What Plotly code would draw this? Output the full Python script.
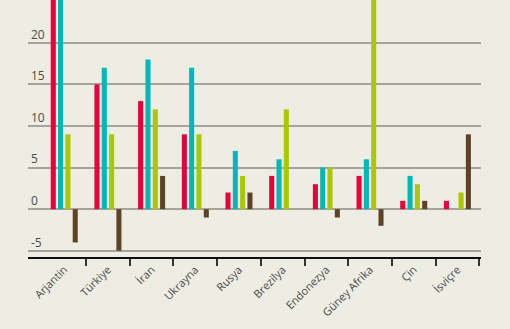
import plotly.graph_objects as go

countries = ["Arjantin", "Türkiye", "İran", "Ukrayna", "Rusya", "Brezilya",
             "Endonezya", "Güney Afrika", "Çin", "İsviçre"]
series_a = [30, 15, 13, 9, 2, 4, 3, 4, 1, 1]
series_b = [30, 17, 18, 17, 7, 6, 5, 6, 4, 0]
series_c = [9, 9, 12, 9, 4, 12, 5, 30, 3, 2]
series_d = [-4, -5, 4, -1, 2, 0, -1, -2, 1, 9]
colors = ["#E6003C", "#00B7BA", "#A9C800", "#5E4226"]
y_ticks = [-5, 0, 5, 10, 15, 20]
y_tick_text = ["-5", "0", "5", "10", "15", "20"]

bg = "#EEEDE3"
fig = go.Figure()
for vals, col in zip([series_a, series_b, series_c, series_d], colors):
    fig.add_trace(go.Bar(x=countries, y=vals, marker_color=col,
                         marker_line_width=0, showlegend=False))

fig.update_layout(
    width=510, height=329,
    margin=dict(l=28, r=29, t=0, b=72),
    paper_bgcolor=bg, plot_bgcolor=bg,
    barmode="group", bargap=0.33, bargroupgap=0.31,
    font=dict(family="Open Sans", size=11, color="#4A4A4A"),
    xaxis=dict(
        range=[-0.83, 9.54], tickangle=-45, showgrid=False,
        tickson="boundaries", ticks="outside", ticklen=7, tickwidth=1.5,
        tickcolor="#333333", showline=True, linecolor="#111111", linewidth=2,
        tickfont=dict(size=11, color="#4A4A4A"),
    ),
    yaxis=dict(
        range=[-5.75, 25.15], tickvals=y_ticks, ticktext=y_tick_text,
        ticklabelposition="inside top", showgrid=True,
        gridcolor="#A5A49B", gridwidth=1.5, zeroline=True,
        zerolinecolor="#A5A49B", zerolinewidth=1.5,
        tickfont=dict(size=12, color="#4A4A4A"),
    ),
)
fig.write_html("out.html")
